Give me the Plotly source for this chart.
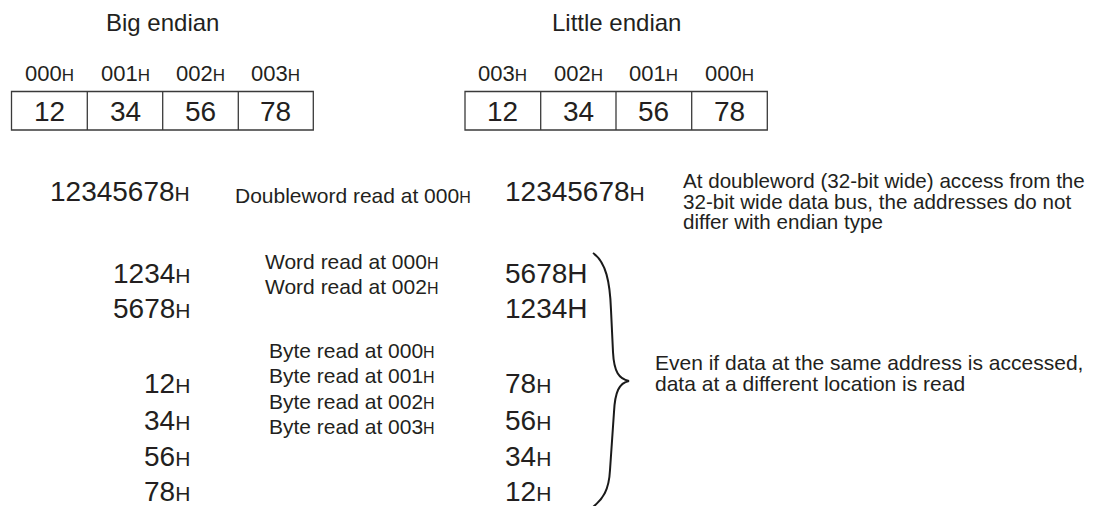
import plotly.graph_objects as go

# ---------------- data ----------------
titles = ["Big endian", "Little endian"]
byte_values = ["12", "34", "56", "78"]
big_addrs = ["000", "001", "002", "003"]
little_addrs = ["003", "002", "001", "000"]
dword_value = "12345678"
dword_read_addr = "000"
big_words = ["1234", "5678"]
little_words = ["5678", "1234"]
word_read_addrs = ["000", "002"]
big_bytes = ["12", "34", "56", "78"]
little_bytes = ["78", "56", "34", "12"]
byte_read_addrs = ["000", "001", "002", "003"]
note_lines = ["At doubleword (32-bit wide) access from the",
              "32-bit wide data bus, the addresses do not",
              "differ with endian type"]
brace_lines = ["Even if data at the same address is accessed,",
               "data at a different location is read"]

# ---------------- layout / style ----------------
W, H = 1099, 506
OFF = 8  # page body margin; axes ranges offset so data units == page pixels
FONT = "Liberation Sans, Arial, Helvetica, sans-serif"
TXT = "#231f20"
LINE = "#3a3a3a"

big_box_edges = [11.5, 87.3, 162.7, 238.3, 313.3]
little_box_edges = [465.0, 540.7, 616.0, 691.7, 767.3]
box_top, box_bot = 91.5, 130.0

NUM = 28     # value font size
NUM_H = 21   # small H suffix on values
LBL = 21     # label font size
LBL_H = 16


def hsuf(size):
    return f'<span style="font-size:{size}px">H</span>'


fig = go.Figure()
ann = []


def text(x, y, t, size, anchor="center", align="center"):
    ann.append(dict(x=x, y=y, text=t, xref="x", yref="y", showarrow=False,
                    xanchor=anchor, yanchor="middle", align=align,
                    font=dict(family=FONT, size=size, color=TXT)))


def block(x, y_top_center, lines, size, spacing):
    # multi-line block: base font sets the line spacing (1.3 em), span sets glyph size
    base = spacing / 1.3
    body = "<br>".join(f'<span style="font-size:{size}px">{ln}</span>' for ln in lines)
    n = len(lines)
    yc = y_top_center + spacing * (n - 1) / 2
    text(x, yc, body, base, "left", "left")


shapes = []

# titles
text((big_box_edges[0] + big_box_edges[-1]) / 2, 22, titles[0], 24)
text((little_box_edges[0] + little_box_edges[-1]) / 2, 22, titles[1], 24)

# memory boxes
for edges, addrs in [(big_box_edges, big_addrs), (little_box_edges, little_addrs)]:
    shapes.append(dict(type="rect", x0=edges[0], x1=edges[-1], y0=box_top, y1=box_bot,
                       xref="x", yref="y", line=dict(color=LINE, width=1.3)))
    for i in range(1, len(edges) - 1):
        shapes.append(dict(type="line", x0=edges[i], x1=edges[i], y0=box_top, y1=box_bot,
                           xref="x", yref="y", line=dict(color=LINE, width=1.3)))
    for i, (a, v) in enumerate(zip(addrs, byte_values)):
        cx = (edges[i] + edges[i + 1]) / 2
        text(cx, 73, a + hsuf(17), 22)
        text(cx, 111, v, 28)

# doubleword row
BIG_R = 192
LIT_L = 503
text(BIG_R, 191, dword_value + hsuf(NUM_H), NUM, "right")
text(233, 195, "Doubleword read at " + dword_read_addr + hsuf(LBL_H), LBL, "left")
text(LIT_L, 191, dword_value + hsuf(NUM_H), NUM, "left")
block(681, 180, note_lines, 20.6, 20.5)

# word rows
word_y = [273, 308]
for y, v in zip(word_y, big_words):
    text(BIG_R, y, v + hsuf(NUM_H), NUM, "right")
for y, v in zip(word_y, little_words):
    text(LIT_L, y, v + "H", NUM, "left")
for i, a in enumerate(word_read_addrs):
    text(263, 261 + 25 * i, "Word read at " + a + hsuf(LBL_H), LBL, "left")

# byte rows
byte_y = [383, 420, 456, 491]
for y, v in zip(byte_y, big_bytes):
    text(BIG_R, y, v + hsuf(NUM_H), NUM, "right")
for y, v in zip(byte_y, little_bytes):
    text(LIT_L, y, v + hsuf(NUM_H), NUM, "left")
for i, a in enumerate(byte_read_addrs):
    text(267, 350 + 25.5 * i, "Byte read at " + a + hsuf(LBL_H), LBL, "left")

# brace
shapes.append(dict(type="path", xref="x", yref="y",
                   path="M 593 253 C 606 262, 610 282, 611 310 L 613 352 "
                        "C 614 372, 619 379, 629 381 "
                        "C 619 383, 615 392, 614 412 L 610 470 "
                        "C 609 490, 603 499, 593 507",
                   line=dict(color="#1a1a1a", width=2)))
block(653, 363, brace_lines, 21, 20.5)

fig.update_layout(
    width=W - OFF, height=H - OFF, autosize=False,
    margin=dict(l=0, r=0, t=0, b=0, pad=0),
    paper_bgcolor="white", plot_bgcolor="white",
    xaxis=dict(range=[OFF, W], visible=False, fixedrange=True),
    yaxis=dict(range=[H, OFF], visible=False, fixedrange=True),
    annotations=ann, shapes=shapes, showlegend=False,
)

fig.write_html("out.html")
